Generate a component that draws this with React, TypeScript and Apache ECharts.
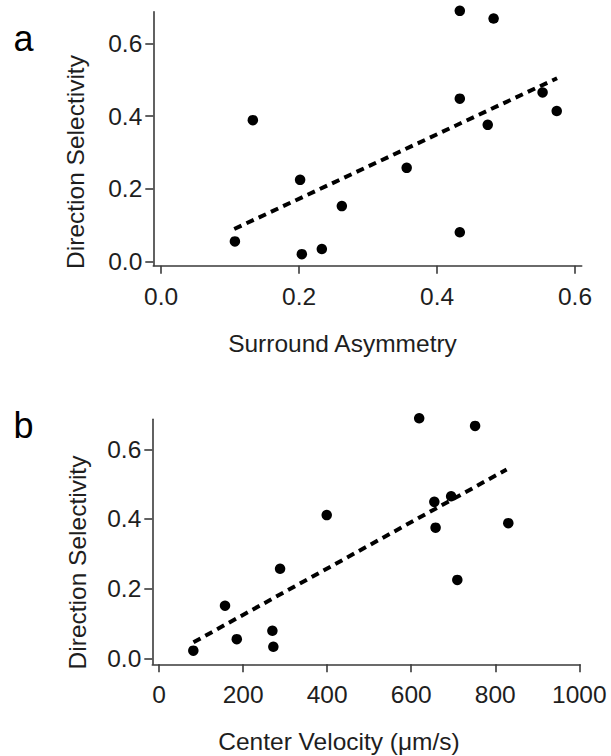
import React, { useEffect, useRef } from "react";
import * as echarts from "echarts";

// Panel a: Surround Asymmetry vs Direction Selectivity
const surroundAsymmetry = [0.107, 0.133, 0.2015, 0.204, 0.233, 0.262, 0.356, 0.433, 0.433, 0.433, 0.4735, 0.482, 0.553, 0.5735];
const dsA = [0.056, 0.389, 0.225, 0.021, 0.035, 0.153, 0.258, 0.689, 0.448, 0.081, 0.376, 0.668, 0.465, 0.414];
const fitA = [
  [0.106, 0.09],
  [0.574, 0.504],
];
const xTicksA = [0, 0.2, 0.4, 0.6];
const yTicks = [0, 0.2, 0.4, 0.6];

// Panel b: Center Velocity vs Direction Selectivity
const centerVelocity = [81.6, 157, 185, 269.7, 272, 288, 399, 619, 655, 658, 695, 709.7, 752, 831];
const dsB = [0.022, 0.151, 0.055, 0.079, 0.033, 0.257, 0.411, 0.689, 0.449, 0.375, 0.465, 0.225, 0.667, 0.388];
const fitB = [
  [82, 0.046],
  [827, 0.542],
];
const xTicksB = [0, 200, 400, 600, 800, 1000];

const FONT = "'Liberation Sans', Arial, Helvetica, sans-serif";
const AXIS_COLOR = "#3a3a3a";
const TEXT_COLOR = "#1e1e1e";
const TICK_FS = 24.5;
const TITLE_FS = 24.5;

export default function App() {
  const ref = useRef<HTMLDivElement>(null);

  useEffect(() => {
    if (!ref.current) return;
    const chart = echarts.init(ref.current, undefined, { renderer: "svg" });

    const axisLine = { show: true, lineStyle: { color: AXIS_COLOR, width: 1.6 } };
    const axisTick = (vals: number[]) => ({
      show: true,
      length: 8,
      customValues: vals,
      lineStyle: { color: AXIS_COLOR, width: 1.6 },
    });
    const labelBase = { color: TEXT_COLOR, fontSize: TICK_FS, fontFamily: FONT };

    const xAxisCommon = (idx: number, min: number, max: number, ticks: number[], dec: number) => ({
      type: "value",
      gridIndex: idx,
      min,
      max,
      axisLine: { ...axisLine, onZero: false },
      axisTick: axisTick(ticks),
      splitLine: { show: false },
      axisLabel: {
        ...labelBase,
        margin: 18,
        customValues: ticks,
        formatter: (v: number) => v.toFixed(dec),
      },
    });
    const yAxisCommon = (idx: number, min: number, max: number) => ({
      type: "value",
      gridIndex: idx,
      min,
      max,
      axisLine: { ...axisLine, onZero: false },
      axisTick: axisTick(yTicks),
      splitLine: { show: false },
      axisLabel: {
        ...labelBase,
        margin: 11,
        customValues: yTicks,
        formatter: (v: number) => v.toFixed(1),
      },
    });

    const scatter = (idx: number, xs: number[], ys: number[]) => ({
      type: "scatter",
      xAxisIndex: idx,
      yAxisIndex: idx,
      symbol: "circle",
      symbolSize: 10.5,
      clip: false,
      itemStyle: { color: "#000", opacity: 1 },
      data: xs.map((x, i) => [x, ys[i]]),
      z: 3,
    });
    const fit = (idx: number, pts: number[][]) => ({
      type: "line",
      xAxisIndex: idx,
      yAxisIndex: idx,
      symbol: "none",
      clip: false,
      lineStyle: { color: "#000", width: 4, type: [8, 5.5], cap: "butt" },
      data: pts,
      z: 2,
    });

    const textStyle = (fs: number) => ({ fill: TEXT_COLOR, fontSize: fs, fontFamily: FONT });

    chart.setOption({
      animation: false,
      backgroundColor: "#fff",
      grid: [
        { left: 153.3, top: 11.7, width: 428.4, height: 254 },
        { left: 152.3, top: 419.3, width: 427.7, height: 245 },
      ],
      xAxis: [
        xAxisCommon(0, -0.0113, 0.6097, xTicksA, 1),
        xAxisCommon(1, -16, 1001.6, xTicksB, 0),
      ],
      yAxis: [yAxisCommon(0, -0.0107, 0.6867), yAxisCommon(1, -0.0172, 0.686)],
      series: [
        fit(0, fitA),
        scatter(0, surroundAsymmetry, dsA),
        fit(1, fitB),
        scatter(1, centerVelocity, dsB),
      ],
      graphic: [
        {
          type: "text",
          left: 13.5,
          top: 20,
          style: { text: "a", ...textStyle(36), fill: "#000" },
        },
        {
          type: "text",
          left: 13.5,
          top: 407,
          style: { text: "b", ...textStyle(36), fill: "#000" },
        },
        {
          type: "text",
          x: 75.5,
          y: 162,
          rotation: Math.PI / 2,
          style: { text: "Direction Selectivity", ...textStyle(TITLE_FS), align: "center", verticalAlign: "middle" },
        },
        {
          type: "text",
          x: 77.2,
          y: 562.5,
          rotation: Math.PI / 2,
          style: { text: "Direction Selectivity", ...textStyle(TITLE_FS), align: "center", verticalAlign: "middle" },
        },
        {
          type: "text",
          x: 342.5,
          y: 343.5,
          style: { text: "Surround Asymmetry", ...textStyle(TITLE_FS), align: "center", verticalAlign: "middle" },
        },
        {
          type: "text",
          x: 339,
          y: 741,
          style: { text: "Center Velocity (\u03bcm/s)", ...textStyle(TITLE_FS), align: "center", verticalAlign: "middle" },
        },
      ],
    });

    return () => chart.dispose();
  }, []);

  return (
    <div
      ref={ref}
      style={{ position: "fixed", left: 0, top: 0, width: 611, height: 756, background: "#fff" }}
    />
  );
}
